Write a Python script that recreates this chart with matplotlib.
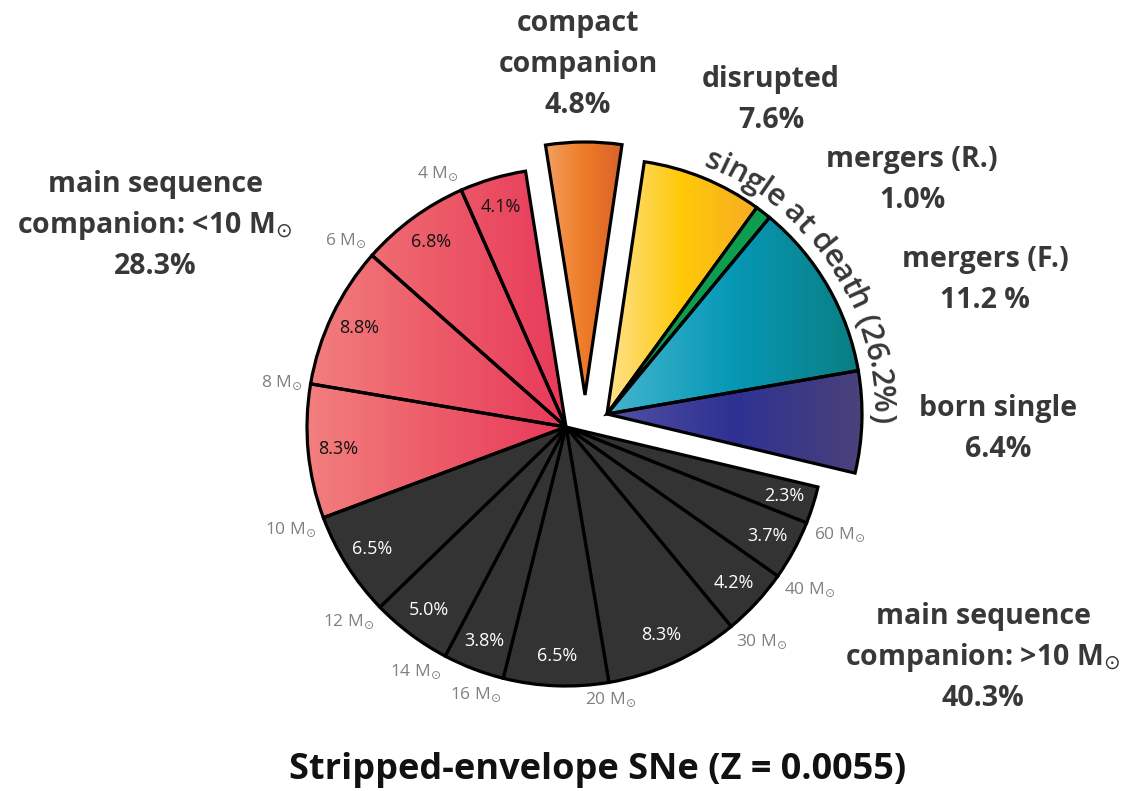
import numpy as np
import matplotlib
matplotlib.use("Agg")
import matplotlib.pyplot as plt
from matplotlib.colors import LinearSegmentedColormap
from matplotlib.font_manager import FontProperties

# ---------------- data ----------------
# main-sequence companion > 10 Msun (clockwise from the right)
ms_high_pct = [2.3, 3.7, 4.2, 8.3, 6.5, 3.8, 5.0, 6.5]
# main-sequence companion < 10 Msun
ms_low_pct = [8.3, 8.8, 6.8, 4.1]
# companion-mass boundaries (clockwise end of each slice)
mass_bounds = ["60", "40", "30", "20", "16", "14", "12", "10", "8", "6", "4"]
compact_pct = [4.8]
# disrupted, mergers (R.), mergers (F.), born single
single_pct = [7.6, 1.0, 11.2, 6.4]

MSUN = r"$\mathregular{M}_{\odot}$"
label_compact = ["compact", "companion", "4.8%"]
label_disrupted = ["disrupted", "7.6%"]
label_merg_r = ["mergers (R.)", "1.0%"]
label_merg_f = ["mergers (F.)", "11.2 %"]
label_born = ["born single", "6.4%"]
label_ms_low = ["main sequence", "companion: <10 " + MSUN, "28.3%"]
label_ms_high = ["main sequence", "companion: >10 " + MSUN, "40.3%"]
arc_text = "single at death (26.2%)"
title = "Stripped-envelope SNe (Z = 0.0055)"

# ---------------- layout ----------------
W, H = 1135, 791
FONT = "Open Sans"


def P(x, y):
    return (x, H - y)


fig = plt.figure(figsize=(W / 100, H / 100), dpi=100)
ax = fig.add_axes([0, 0, 1, 1])

R = 259
R_COMP = 253
R_SING = 255
C_MAIN = P(566, 427)
C_COMP = P(585, 395)
C_SING = P(607, 414)
START = -13.4
all_vals = ms_high_pct + ms_low_pct + compact_pct + single_pct
TOTAL = float(sum(all_vals))
wp = dict(edgecolor="black", linewidth=2.3, joinstyle="miter")

main_vals = ms_high_pct + ms_low_pct
w_main, _ = ax.pie(np.array(main_vals) / TOTAL, normalize=False, startangle=START,
                   counterclock=False, center=C_MAIN, radius=R, wedgeprops=wp)
st_comp = START - 360 * sum(main_vals) / TOTAL
w_comp, _ = ax.pie(np.array(compact_pct) / TOTAL, normalize=False, startangle=st_comp,
                   counterclock=False, center=C_COMP, radius=R_COMP, wedgeprops=wp)
st_sing = st_comp - 360 * sum(compact_pct) / TOTAL
w_sing, _ = ax.pie(np.array(single_pct) / TOTAL, normalize=False, startangle=st_sing,
                   counterclock=False, center=C_SING, radius=R_SING, wedgeprops=wp)


def grad(patch, colors, x0=None, x1=None):
    cmap = LinearSegmentedColormap.from_list("g", colors)
    e = patch.get_path().get_extents()
    if x0 is None:
        x0, x1 = e.x0, e.x1
    im = ax.imshow(np.linspace(0, 1, 256)[None, :], cmap=cmap,
                   extent=(x0, x1, e.y0 - 2, e.y1 + 2), aspect="auto",
                   interpolation="bilinear", zorder=0.5)
    im.set_clip_path(patch)
    patch.set_facecolor("none")


n_hi = len(ms_high_pct)
for w in w_main[:n_hi]:
    w.set_facecolor("#333333")
red_cols = ["#F27F7E", "#ED5B69", "#E73A5A"]
for w in w_main[n_hi:]:
    grad(w, red_cols, C_MAIN[0] - R, C_MAIN[0])
grad(w_comp[0], ["#F3A060", "#EF7C27", "#D8622B"])
single_cols = [["#FEE18E", "#FFCA08", "#F6AC24"],
               None,
               ["#45B5CE", "#0698B6", "#0A7E82"],
               ["#5350A6", "#2E3192", "#4A427A"]]
for w, c in zip(w_sing, single_cols):
    if c is None:
        w.set_facecolor("#0E9D4F")
    else:
        grad(w, c)

# percentage labels inside slices
for i, (w, v) in enumerate(zip(w_main, main_vals)):
    a = np.deg2rad((w.theta1 + w.theta2) / 2)
    cx, cy = w.center
    rr = 0.885 * w.r
    ax.text(cx + rr * np.cos(a), cy + rr * np.sin(a), f"{v:.1f}%",
            ha="center", va="center", color="white" if i < n_hi else "#111111",
            family=FONT, size=13)

# mass boundary labels
for w, m in zip(w_main, mass_bounds):
    a = np.deg2rad(w.theta1)
    cx, cy = w.center
    rr = w.r + 8
    c, s = np.cos(a), np.sin(a)
    ha = "right" if c < -0.15 else ("left" if c > 0.3 else "center")
    va = "bottom" if s > 0.3 else ("top" if s < -0.3 else "center")
    ax.text(cx + rr * c, cy + rr * s, f"{m} " + MSUN, ha=ha, va=va,
            color="#808080", family=FONT, size=12.5)

# big group labels
BIG = dict(family=FONT, weight="bold", size=20.5, color="#383838",
           ha="center", va="baseline")


def block(lines, x, y0, dy=41):
    for k, t in enumerate(lines):
        ax.text(*P(x, y0 + k * dy), t, **BIG)


block(label_compact, 578, 31)
block(label_disrupted, 771, 87)
block(label_merg_r, 912, 167)
block(label_merg_f, 985, 267)
block(label_born, 998, 416)
block(label_ms_low, 155, 192)
block(label_ms_high, 983, 624)

ax.text(*P(598, 779), title, family=FONT, weight="bold", size=26,
        color="#111111", ha="center", va="baseline")

# curved text along the "single at death" group
renderer = fig.canvas.get_renderer()
r_mid, r_base = 276, 266
theta_c = np.deg2rad(33.5)
arc_span = np.deg2rad(70.5) * r_mid
fp = FontProperties(family=FONT, weight="semibold", size=20)


def tw(s, prop):
    bw = renderer.get_text_width_height_descent("l", prop, ismath=False)[0]
    return renderer.get_text_width_height_descent(s + "l", prop, ismath=False)[0] - bw


fp.set_size(20 * arc_span / tw(arc_text, fp))
total_w = tw(arc_text, fp)
theta0 = theta_c + (total_w / 2) / r_mid
for i, ch in enumerate(arc_text):
    if ch == " ":
        continue
    s0, s1 = tw(arc_text[:i], fp), tw(arc_text[:i + 1], fp)
    a = theta0 - 0.5 * (s0 + s1) / r_mid
    ax.text(C_SING[0] + r_base * np.cos(a), C_SING[1] + r_base * np.sin(a), ch,
            rotation=np.rad2deg(a) - 90, rotation_mode="anchor", ha="center",
            va="baseline", fontproperties=fp, color="#383838")

ax.set_xlim(0, W)
ax.set_ylim(0, H)
ax.set_aspect("auto")
ax.axis("off")
fig.savefig("out.png", dpi=100, facecolor="white")
